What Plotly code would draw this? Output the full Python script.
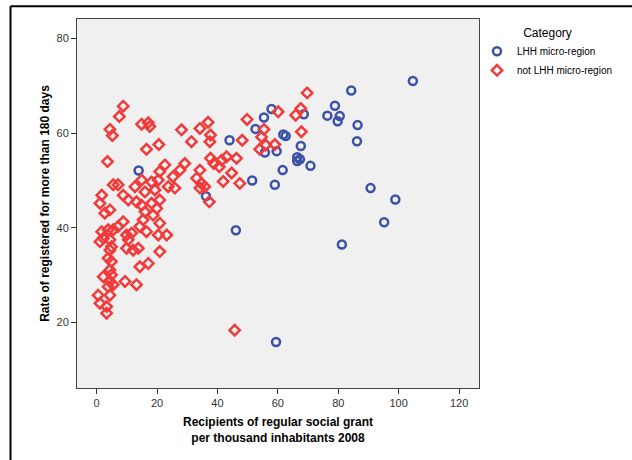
import plotly.graph_objects as go

# LHH micro-region (blue circles)
lhh_x = [104.7, 84.3, 78.9, 76.4, 80.5, 79.8, 86.4, 86.2, 68.6, 67.6, 67.3, 70.8,
         90.7, 98.9, 95.2, 81.2, 57.9, 55.4, 52.6, 61.8, 62.6, 44.0, 55.7, 59.6,
         66.4, 66.4, 61.6, 51.5, 59.0, 36.2, 46.1, 13.9, 59.4]
lhh_y = [71.0, 69.0, 65.8, 63.7, 63.6, 62.5, 61.7, 58.3, 64.0, 57.3, 54.5, 53.1,
         48.4, 46.0, 41.2, 36.5, 65.1, 63.3, 60.9, 59.7, 59.4, 58.5, 55.9, 56.2,
         54.9, 54.1, 52.2, 50.0, 49.1, 46.7, 39.5, 52.1, 15.9]

# not LHH micro-region (red diamonds)
not_x = [69.7, 67.6, 65.9, 60.1, 49.8, 55.4, 54.6, 67.8, 48.2, 54.0, 56.0, 59.0,
         36.9, 34.2, 37.7, 37.5, 31.4, 37.7, 38.8, 41.4, 43.0, 46.3, 40.6, 44.7,
         41.9, 47.4, 34.2, 33.1, 34.7, 35.8, 34.2, 37.3,
         8.8, 7.5, 4.4, 5.2, 14.9, 17.1, 17.6, 28.1, 20.6, 16.5,
         3.6, 22.6, 29.2, 27.6, 20.9, 25.3, 20.4, 18.2, 14.9, 23.7, 25.9, 12.7,
         5.5, 7.1, 16.0, 19.3, 1.7, 8.8, 10.5, 13.2, 1.1, 20.9, 18.2, 14.9,
         19.9, 16.0, 4.4, 2.7, 18.7, 15.4, 20.9, 8.8, 7.1, 14.3, 16.5, 20.4,
         23.2, 1.7, 3.8, 5.5, 2.2, 1.1, 4.4, 9.9, 10.5, 11.6, 4.9, 4.4,
         9.9, 12.1, 13.8, 3.8, 4.9, 20.9, 14.3, 17.1, 4.4, 2.2, 4.9, 4.4,
         5.5, 3.8, 9.4, 13.2, 0.5, 4.4, 1.1, 3.3, 3.3, 45.7]
not_y = [68.5, 65.2, 63.8, 64.5, 62.9, 60.8, 59.2, 60.3, 58.5, 56.6, 57.5, 57.6,
         62.3, 61.0, 59.6, 58.2, 58.2, 54.7, 53.6, 54.3, 55.0, 54.7, 52.9, 51.6,
         49.8, 49.4, 52.2, 50.5, 49.4, 48.7, 48.4, 45.5,
         65.7, 63.5, 60.8, 59.5, 61.9, 62.2, 61.4, 60.7, 57.6, 56.6,
         54.0, 53.3, 53.6, 52.2, 51.9, 50.8, 50.1, 49.7, 50.1, 48.7, 48.4, 48.7,
         49.1, 49.1, 47.6, 48.0, 46.9, 46.9, 45.9, 45.5, 45.2, 45.9, 45.2, 44.8,
         44.1, 43.4, 43.8, 43.1, 42.7, 41.7, 41.0, 41.3, 40.3, 40.3, 39.2, 38.5,
         38.5, 39.2, 39.6, 39.6, 37.8, 37.1, 37.5, 38.5, 37.5, 38.9, 36.0, 35.3,
         35.7, 35.3, 35.7, 33.6, 32.9, 35.0, 31.8, 32.5, 31.1, 29.7, 30.1, 28.7,
         28.0, 27.6, 28.7, 28.0, 25.8, 25.8, 24.1, 23.4, 22.0, 18.4]

x_ticks = [0, 20, 40, 60, 80, 100, 120]
y_ticks = [20, 40, 60, 80]

BLUE = "#3b52a8"
RED = "#f23a3a"

fig = go.Figure()
fig.add_trace(go.Scatter(
    x=lhh_x, y=lhh_y, mode="markers", name="LHH micro-region",
    marker=dict(symbol="circle-open", size=8, color=BLUE, line=dict(width=2.5, color=BLUE)),
))
fig.add_trace(go.Scatter(
    x=not_x, y=not_y, mode="markers", name="not LHH micro-region",
    marker=dict(symbol="diamond-open", size=8, color=RED, line=dict(width=2.5, color=RED)),
))

axis_common = dict(
    showgrid=False, zeroline=False, showline=True, linecolor="#444444", linewidth=1,
    mirror=True, ticks="outside", ticklen=5, tickcolor="#333333", tickwidth=1,
    tickfont=dict(family="Liberation Sans, Arial", size=11, color="#333333"),
    automargin=True,
)

fig.update_layout(
    width=632, height=460,
    margin=dict(l=77, r=153, t=19, b=72, autoexpand=False),
    paper_bgcolor="white", plot_bgcolor="#f0f0f0",
    font=dict(family="Liberation Sans, Arial", color="black"),
    xaxis=dict(
        range=[-6.5, 126.6], tickvals=x_ticks, **axis_common,
        title=dict(text="<b>Recipients of regular social grant<br>per thousand inhabitants 2008</b>",
                   font=dict(size=12, color="black"), standoff=9),
    ),
    yaxis=dict(
        range=[6.2, 84.1], tickvals=y_ticks, **axis_common,
        title=dict(text="<b>Rate of registered for more than 180 days</b>",
                   font=dict(size=12, color="black"), standoff=4),
    ),
    legend=dict(
        x=0.995, y=0.994, xanchor="left", yanchor="top",
        title=dict(text="Category", side="top center", font=dict(size=12, color="black")),
        font=dict(size=10, color="black"), itemwidth=30,
        tracegroupgap=0, bgcolor="rgba(0,0,0,0)",
    ),
    shapes=[
        dict(type="line", xref="paper", yref="paper", x0=-0.1654, x1=1.45, y0=1.0344, y1=1.0344,
             line=dict(color="black", width=2)),
        dict(type="line", xref="paper", yref="paper", x0=-0.1654, x1=-0.1654, y0=-0.25, y1=1.0344,
             line=dict(color="black", width=2)),
    ],
)

fig.write_html("out.html", config={"displayModeBar": False},
               post_script="document.body.style.margin='0';")
